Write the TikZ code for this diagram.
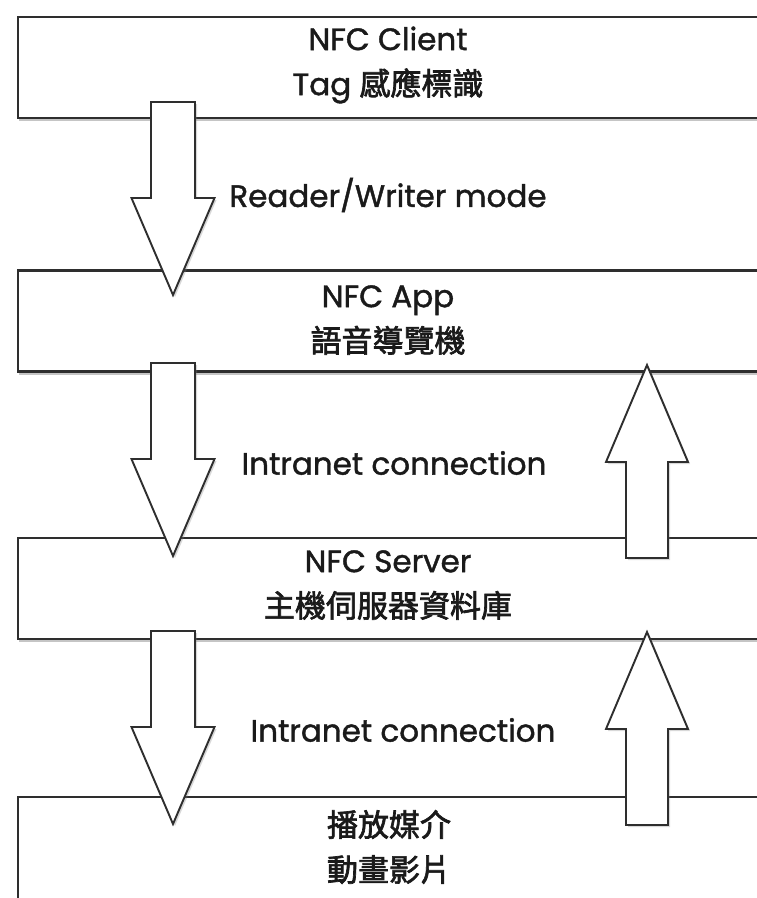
\documentclass[tikz,border=0pt]{standalone}
\usepackage{fontspec}
\setmainfont{Poppins}[FakeBold=1.3]
\newfontfamily\cjk{Noto Sans CJK TC}[FakeBold=2.2]
\usetikzlibrary{shadows}
\definecolor{linecol}{HTML}{2E2E2E}
\definecolor{txtcol}{HTML}{1A1A1A}
\tikzset{
  box/.style={draw=linecol, line width=2.3pt, fill=white, rectangle, minimum width=742pt, minimum height=101pt, inner sep=0pt,
    drop shadow={shadow xshift=1pt, shadow yshift=-3pt, opacity=.45}},
  arr/.style={draw=linecol, line width=1.9pt, fill=white, line join=miter,
    drop shadow={shadow xshift=2pt, shadow yshift=-2pt, opacity=.3}},
  txt/.style={align=center, text=txtcol, font=\fontsize{31}{45}\selectfont, inner sep=0pt},
  lbl/.style={text=txtcol, font=\fontsize{31}{36}\selectfont, inner sep=0pt},
  downarr/.pic={\path[arr] (-22,0) -- (22,0) -- (22,96) -- (41.5,96) -- (0,193) -- (-41.5,96) -- (-22,96) -- cycle;},
  uparr/.pic={\path[arr] (-21,0) -- (21,0) -- (21,-96) -- (41,-96) -- (0,-193) -- (-41,-96) -- (-21,-96) -- cycle;}
}
\begin{document}
\begin{tikzpicture}[x=1pt,y=-1pt]
\useasboundingbox (0,0) rectangle (757,898);
\fill[white] (0,0) rectangle (757,898);
% boxes
\node[box] (b1) at (389,67.5) {};
\node[box] (b2) at (389,321) {};
\node[box] (b3) at (389,588.5) {};
\node[box, minimum height=125pt] (b4) at (389,859.5) {};
% arrow anchors
\coordinate (d1) at (173,102);
\coordinate (d2) at (173,363);
\coordinate (d3) at (173,631);
\coordinate (u1) at (647,558);
\coordinate (u2) at (647,825);
\pic at (d1) {downarr};
\pic at (d2) {downarr};
\pic at (d3) {downarr};
\pic at (u1) {uparr};
\pic at (u2) {uparr};
% texts
\node[txt] (t1) at (388,65) {NFC Client\\Tag {\cjk 感應標識}};
\node[txt] (t2) at (388,320) {NFC App\\{\cjk 語音導覽機}};
\node[txt] (t3) at (388,585) {NFC Server\\{\cjk 主機伺服器資料庫}};
\node[txt] (t4) at (389,847) {{\cjk 播放媒介}\\{\cjk 動畫影片}};
\node[lbl] (l1) at (388,195) {Reader/Writer mode};
\node[lbl] (l2) at (394,463) {Intranet connection};
\node[lbl] (l3) at (403,730) {Intranet connection};
\end{tikzpicture}
\end{document}
